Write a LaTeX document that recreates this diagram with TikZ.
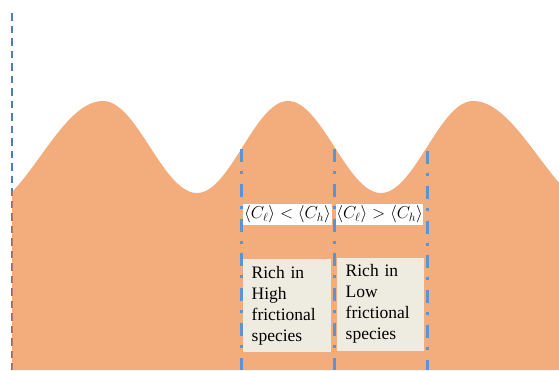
\documentclass[tikz,border=0pt]{standalone}
\usepackage{fontspec}
\newfontfamily\boxfont{Liberation Serif}
\definecolor{hillorange}{HTML}{ED7D31}
\definecolor{dashblue}{HTML}{5B93D4}
\definecolor{leftblue}{HTML}{4F7DBA}
\definecolor{boxbeige}{HTML}{EEECE1}
\tikzset{
  hill/.style={fill=hillorange, fill opacity=0.64},
  leftline/.style={draw=leftblue, line width=2pt, dash pattern=on 7.5pt off 5pt},
  dashdotline/.style={draw=dashblue, line width=3pt, dash pattern=on 13pt off 9pt on 3pt off 9.8pt},
  mathlabel/.style={fill=white, inner sep=0pt, minimum height=21pt, font=\fontsize{17}{20}\selectfont},
  speciesbox/.style={fill=boxbeige, anchor=north west, inner xsep=8.5pt, inner ysep=0pt,
    minimum height=93pt, align=left, font=\boxfont\fontsize{17.5}{21}\selectfont}
}
\begin{document}
\begin{tikzpicture}[x=1pt,y=-1pt]
\useasboundingbox (0,0) rectangle (559,370);
% left dashed line (behind the hills)
\coordinate (lt) at (12,13);
\coordinate (lb) at (12,370);
\draw[leftline] (lt) -- (lb);
% hills
\fill[hill] (12,370) --
  plot[domain=12:103,samples=40] (\x,{101+55*(1-cos((103-\x)/125*180))}) --
  plot[domain=103:197,samples=40] (\x,{147-46*cos((\x-103)/94*180)}) --
  plot[domain=197:288,samples=40] (\x,{147+46*cos((\x-197)/91*180)}) --
  plot[domain=288:381,samples=40] (\x,{147-46*cos((\x-288)/93*180)}) --
  plot[domain=381:473,samples=40] (\x,{147+46*cos((\x-381)/92*180)}) --
  plot[domain=473:559,samples=40] (\x,{101+55*(1-cos((\x-473)/130*180))}) --
  (559,370) -- cycle;
% dash-dot lines
\coordinate (a1) at (241,149);
\coordinate (a2) at (241,370);
\coordinate (b1) at (334,149);
\coordinate (b2) at (334,370);
\coordinate (c1) at (427,151);
\coordinate (c2) at (427,370);
\draw[dashdotline] (a1) -- (a2);
\draw[dashdotline] (b1) -- (b2);
\draw[dashdotline] (c1) -- (c2);
% math labels
\node[mathlabel, minimum width=88.4pt] (m1) at (287.5,214.5) {$\langle C_\ell\rangle < \langle C_h\rangle$};
\node[mathlabel, minimum width=87.3pt] (m2) at (379.65,214.5) {$\langle C_\ell\rangle > \langle C_h\rangle$};
% species boxes
\node[speciesbox, text width=71pt] (s1) at (243,259) {Rich in\\High\\frictional\\species};
\node[speciesbox, text width=70pt] (s2) at (337,257.3) {Rich in\\Low\\frictional\\species};
\end{tikzpicture}
\end{document}
